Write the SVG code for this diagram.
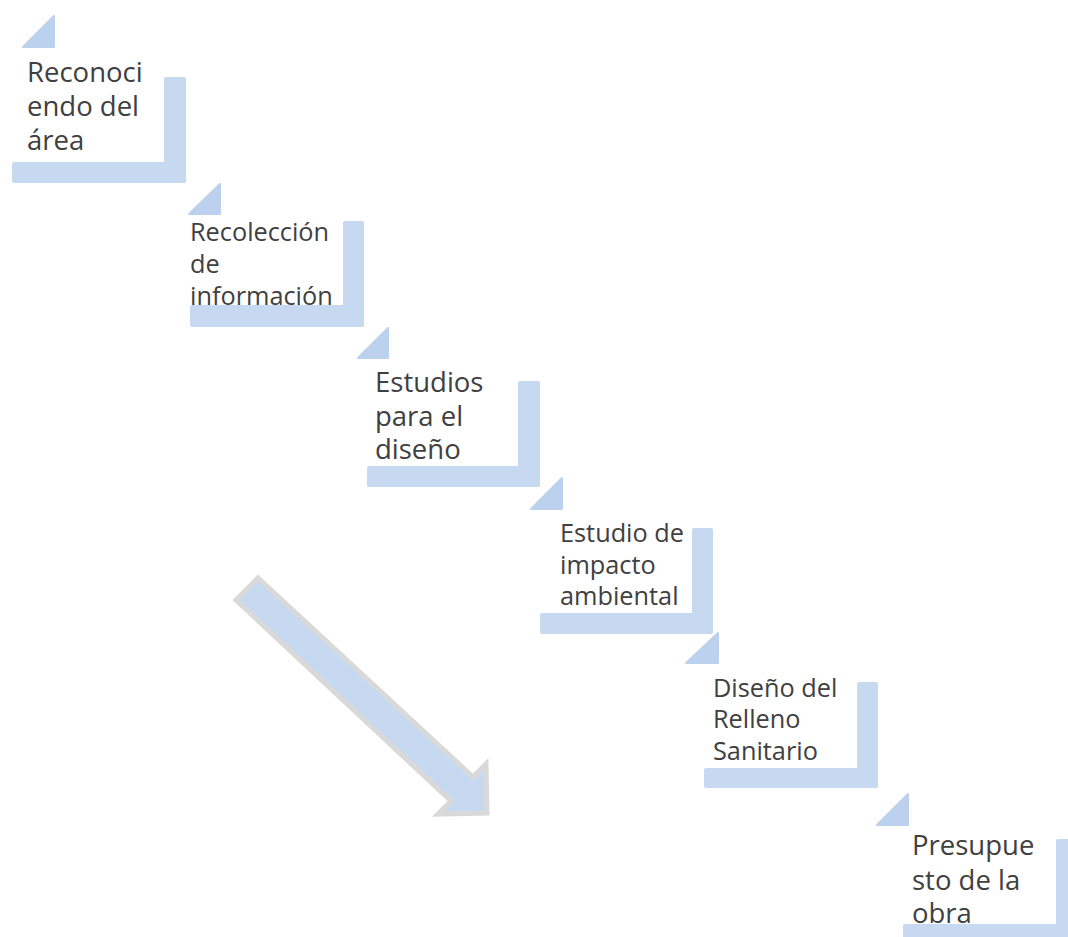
<svg xmlns="http://www.w3.org/2000/svg" width="1068" height="937" viewBox="0 0 1068 937">
<style>
.tri{fill:#bcd1ee;stroke:#bcd1ee;stroke-width:2;stroke-linejoin:round}
.bar{fill:#c6d9f1}
.t{font-family:"Open Sans","DejaVu Sans",sans-serif;fill:#404040}
.lg{font-size:27.5px}
.sm{font-size:25.3px}
</style>
<rect width="1068" height="937" fill="#ffffff"/>
<g id="step1">
<polygon class="tri" points="23,47 54,16 54,47"/>
<rect class="bar" x="164" y="77" width="22" height="106" rx="2"/>
<rect class="bar" x="12" y="162" width="174" height="21" rx="2"/>
<text class="t lg" x="27" y="82"><tspan x="27" y="82">Reconoci</tspan><tspan x="27" y="116">endo del</tspan><tspan x="27" y="150">área</tspan></text>
</g>
<g id="step2">
<polygon class="tri" points="189,214 220,184 220,214"/>
<rect class="bar" x="343" y="221" width="21" height="106" rx="2"/>
<rect class="bar" x="190" y="305" width="174" height="22" rx="2"/>
<text class="t sm" x="190" y="241"><tspan x="190" y="241">Recolección</tspan><tspan x="190" y="273">de</tspan><tspan x="190" y="305">información</tspan></text>
</g>
<g id="step3">
<polygon class="tri" points="358,358 388,328 388,358"/>
<rect class="bar" x="518" y="381" width="22" height="106" rx="2"/>
<rect class="bar" x="367" y="466" width="173" height="21" rx="2"/>
<text class="t lg" x="375" y="392"><tspan x="375" y="392">Estudios</tspan><tspan x="375" y="426">para el</tspan><tspan x="375" y="459">diseño</tspan></text>
</g>
<g id="step4">
<polygon class="tri" points="531,509 562,478 562,509"/>
<rect class="bar" x="692" y="528" width="21" height="106" rx="2"/>
<rect class="bar" x="540" y="613" width="173" height="21" rx="2"/>
<text class="t sm" x="560" y="542"><tspan x="560" y="542">Estudio de</tspan><tspan x="560" y="574">impacto</tspan><tspan x="560" y="605">ambiental</tspan></text>
</g>
<g id="step5">
<polygon class="tri" points="686,663 718,633 718,663"/>
<rect class="bar" x="857" y="682" width="21" height="106" rx="2"/>
<rect class="bar" x="704" y="768" width="174" height="20" rx="2"/>
<text class="t sm" x="713" y="697"><tspan x="713" y="697">Diseño del</tspan><tspan x="713" y="728">Relleno</tspan><tspan x="713" y="760">Sanitario</tspan></text>
</g>
<g id="step6">
<polygon class="tri" points="877,825 908,794 908,825"/>
<rect class="bar" x="1056" y="839" width="22" height="110" rx="2"/>
<rect class="bar" x="903" y="924" width="175" height="21" rx="2"/>
<text class="t lg" x="912" y="855"><tspan x="912" y="855">Presupue</tspan><tspan x="912" y="890">sto de la</tspan><tspan x="912" y="923">obra</tspan></text>
</g>
<g id="connectors">
<polygon points="236,600 258,578 473,777 486,764 487,813 438,814 451,801" fill="#c6d9f0" stroke="#d9d9d9" stroke-width="5" stroke-linejoin="miter"/>
</g>
</svg>
